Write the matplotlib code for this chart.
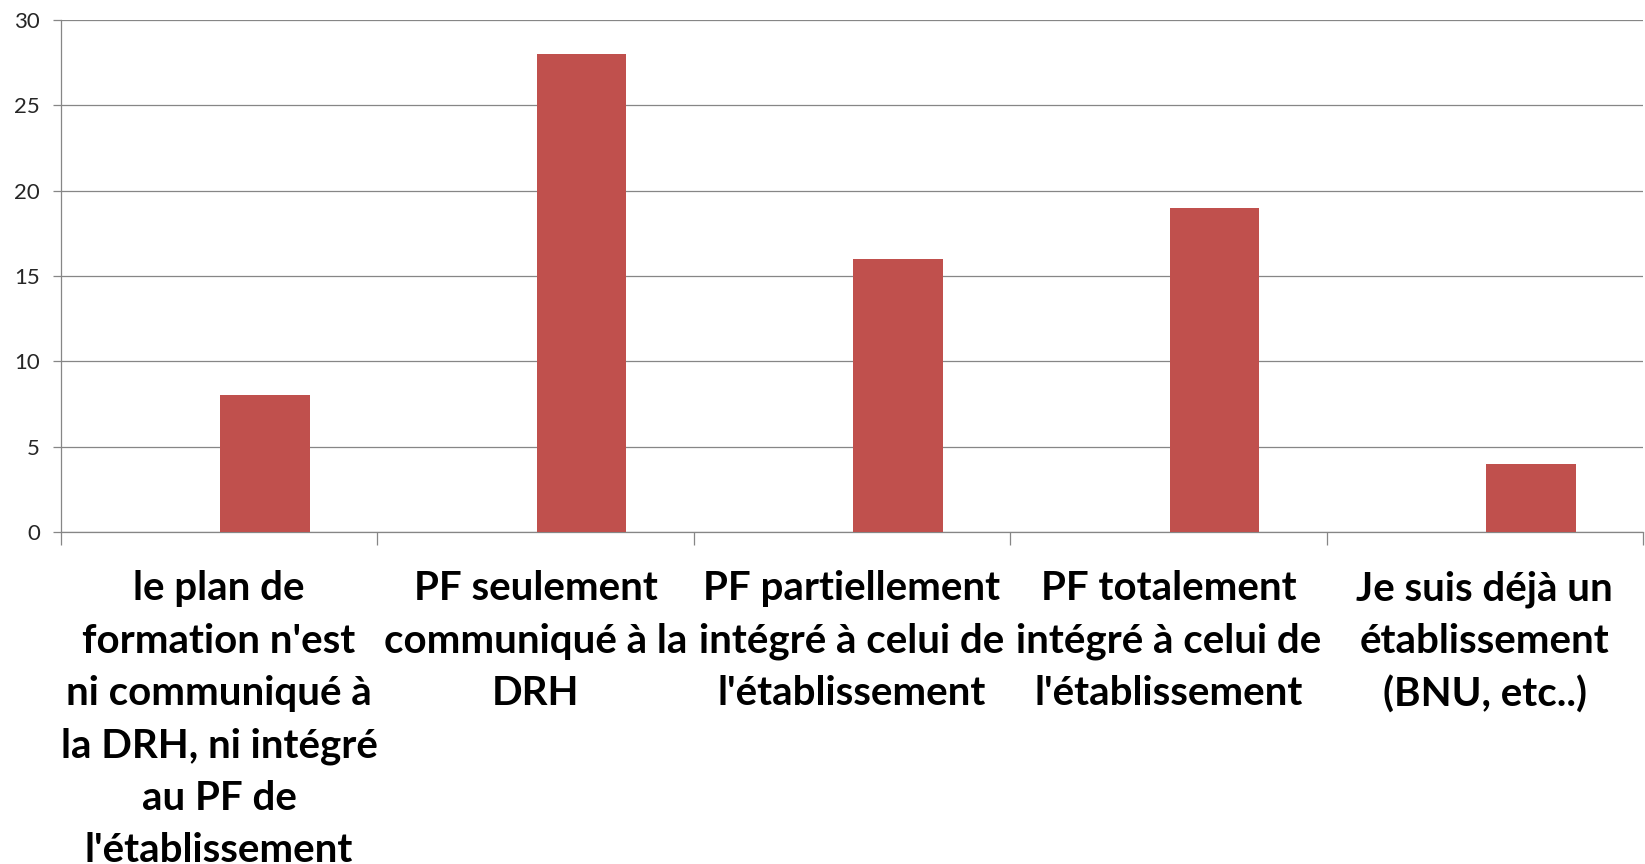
import matplotlib.pyplot as plt
import matplotlib.transforms as mtransforms
import numpy as np

# Categories and counts
categories = [
    "le plan de\nformation n'est\nni communiqué à\nla DRH, ni intégré\nau PF de\nl'établissement",
    "PF seulement\ncommuniqué à la\nDRH",
    "PF partiellement\nintégré à celui de\nl'établissement",
    "PF totalement\nintégré à celui de\nl'établissement",
    "Je suis déjà un\nétablissement\n(BNU, etc..)",
]
values = [8, 28, 16, 19, 4]
yticks = [0, 5, 10, 15, 20, 25, 30]

bar_color = '#C0504D'
grid_color = '#868686'

fig = plt.figure(figsize=(16.45, 8.64), dpi=100)
ax = fig.add_axes([0.037, 0.3843, 0.9618, 0.5926])

x = np.arange(len(categories))
# two-series layout in the original, only the second one has values
width = 0.283
ax.bar(x + width / 2 + 0.004, values, width=width, color=bar_color, zorder=3)

ax.set_xlim(-0.5, len(categories) - 0.5)
ax.set_ylim(0, 30)
ax.set_yticks(yticks)
ax.yaxis.grid(True, color=grid_color, linewidth=0.9)
ax.set_axisbelow(True)

for s in ['top', 'right']:
    ax.spines[s].set_visible(False)
for s in ['left', 'bottom']:
    ax.spines[s].set_color(grid_color)
    ax.spines[s].set_linewidth(0.9)

ax.tick_params(axis='y', length=6, width=0.9, color=grid_color, pad=9,
               labelsize=16, labelcolor='#262626')
for lab in ax.get_yticklabels():
    lab.set_fontfamily('Lato')

# category boundary ticks
ax.set_xticks(np.arange(len(categories) + 1) - 0.5)
ax.set_xticklabels([])
ax.tick_params(axis='x', length=9, width=0.9, color=grid_color)

trans = mtransforms.blended_transform_factory(ax.transData, ax.transAxes)
for i, lab in enumerate(categories):
    ax.text(i, -0.075, lab, transform=trans, ha='center', va='top',
            fontsize=29, fontweight='bold', family='Lato',
            linespacing=1.51, color='black')

fig.savefig('out.png', dpi=100)
